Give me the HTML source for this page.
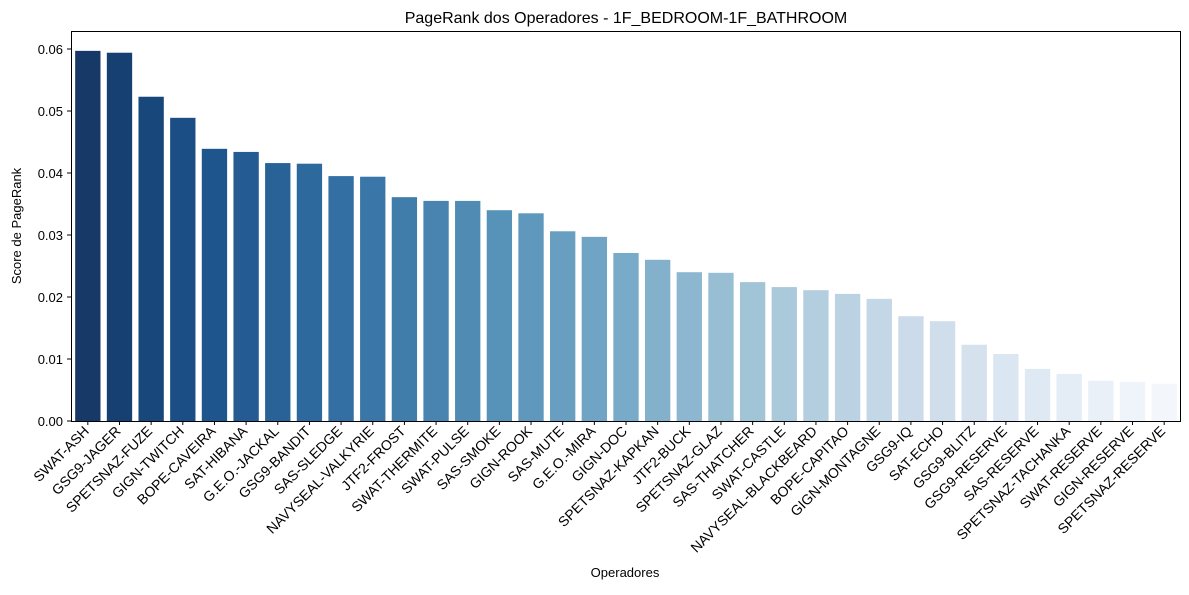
<!DOCTYPE html>
<html><head><meta charset="utf-8"><style>
body{margin:0;background:#fff;}
svg text{font-family:"Liberation Sans","DejaVu Sans",sans-serif;fill:#000;}
</style></head><body>
<svg id="chart" width="1189" height="590" xmlns="http://www.w3.org/2000/svg">
<text x="626" y="23" font-size="16" text-anchor="middle">PageRank dos Operadores - 1F_BEDROOM-1F_BATHROOM</text>
<text transform="translate(21,226) rotate(-90)" font-size="13" text-anchor="middle">Score de PageRank</text>
<text x="625" y="577" font-size="13" text-anchor="middle">Operadores</text>
<g id="bars"></g><g id="ticks"></g>
<rect x="71.5" y="31.5" width="1109" height="390" fill="none" stroke="#000" stroke-width="1"/>
</svg>
<script>
const categories=["SWAT-ASH","GSG9-JAGER","SPETSNAZ-FUZE","GIGN-TWITCH","BOPE-CAVEIRA","SAT-HIBANA","G.E.O.-JACKAL","GSG9-BANDIT","SAS-SLEDGE","NAVYSEAL-VALKYRIE","JTF2-FROST","SWAT-THERMITE","SWAT-PULSE","SAS-SMOKE","GIGN-ROOK","SAS-MUTE","G.E.O.-MIRA","GIGN-DOC","SPETSNAZ-KAPKAN","JTF2-BUCK","SPETSNAZ-GLAZ","SAS-THATCHER","SWAT-CASTLE","NAVYSEAL-BLACKBEARD","BOPE-CAPITAO","GIGN-MONTAGNE","GSG9-IQ","SAT-ECHO","GSG9-BLITZ","GSG9-RESERVE","SAS-RESERVE","SPETSNAZ-TACHANKA","SWAT-RESERVE","GIGN-RESERVE","SPETSNAZ-RESERVE"];
const values=[0.0597,0.0594,0.0523,0.0489,0.0439,0.0434,0.0416,0.0415,0.0395,0.0394,0.0361,0.0355,0.0355,0.0340,0.0335,0.0306,0.0297,0.0271,0.0260,0.0240,0.0239,0.0224,0.0216,0.0211,0.0205,0.0197,0.0169,0.0161,0.0123,0.0108,0.0084,0.0076,0.0065,0.0063,0.0060];
const yTicks=[0,0.01,0.02,0.03,0.04,0.05,0.06];
const yTickLabels=["0.00","0.01","0.02","0.03","0.04","0.05","0.06"];
const NS="http://www.w3.org/2000/svg";
const X0=72,X1=1180,Y0=421;
const band=(X1-X0)/categories.length;
const xC=i=>X0+band*(i+0.5);
const yS=v=>Y0-v*6200;
const stops=["#f7fbff","#deebf7","#c6dbef","#9ecae1","#6baed6","#4292c6","#2171b5","#08519c","#08306b"].reverse();
function hx(h){return [1,3,5].map(k=>parseInt(h.substr(k,2),16)/255);}
function cmap(t){const p=t*(stops.length-1),i=Math.min(Math.floor(p),stops.length-2),f=p-i;const a=hx(stops[i]),b=hx(stops[i+1]);return a.map((v,k)=>v+(b[k]-v)*f);}
function desat(c,s){const mx=Math.max(...c),mn=Math.min(...c);let l=(mx+mn)/2,h=0,sat=0;const d=mx-mn;
 if(d>0){sat=l>0.5?d/(2-mx-mn):d/(mx+mn);if(mx===c[0])h=((c[1]-c[2])/d+(c[1]<c[2]?6:0));else if(mx===c[1])h=(c[2]-c[0])/d+2;else h=(c[0]-c[1])/d+4;h/=6;}
 sat*=s;const q=l<0.5?l*(1+sat):l+sat-l*sat,p=2*l-q;
 const f=t=>{if(t<0)t+=1;if(t>1)t-=1;if(t<1/6)return p+(q-p)*6*t;if(t<1/2)return q;if(t<2/3)return p+(q-p)*(2/3-t)*6;return p;};
 const r=sat===0?[l,l,l]:[f(h+1/3),f(h),f(h-1/3)];return "rgb("+r.map(v=>Math.round(v*255)).join(",")+")";}
const bars=document.getElementById("bars"),ticks=document.getElementById("ticks");
const n=categories.length;
values.forEach((v,i)=>{
 const r=document.createElementNS(NS,"rect");
 
 
 const w=band*0.8;r.setAttribute("x",xC(i)-w/2);r.setAttribute("width",w);
 r.setAttribute("y",yS(v));r.setAttribute("height",Y0-yS(v));
 r.setAttribute("fill",desat(cmap((i+1)/(n+1)),0.75));bars.appendChild(r);
 const t=document.createElementNS(NS,"line");
 
 
 t.setAttribute("x1",xC(i));t.setAttribute("x2",xC(i));t.setAttribute("y1",421);t.setAttribute("y2",425);t.setAttribute("stroke","#000");ticks.appendChild(t);
 const l=document.createElementNS(NS,"text");
 
 
 l.setAttribute("font-size","14");l.setAttribute("text-anchor","end");
 l.setAttribute("transform","translate("+(xC(i)+2)+",432) rotate(-45)");l.textContent=categories[i];ticks.appendChild(l);
});
yTicks.forEach((v,i)=>{
 const t=document.createElementNS(NS,"line");
 
 
 t.setAttribute("x1",67);t.setAttribute("x2",71);t.setAttribute("y1",yS(v));t.setAttribute("y2",yS(v));t.setAttribute("stroke","#000");ticks.appendChild(t);
 const l=document.createElementNS(NS,"text");
 
 
 l.setAttribute("font-size","13");l.setAttribute("text-anchor","end");
 l.setAttribute("x",63);l.setAttribute("y",yS(v)+5);l.textContent=yTickLabels[i];ticks.appendChild(l);
});
</script>
</body></html>
